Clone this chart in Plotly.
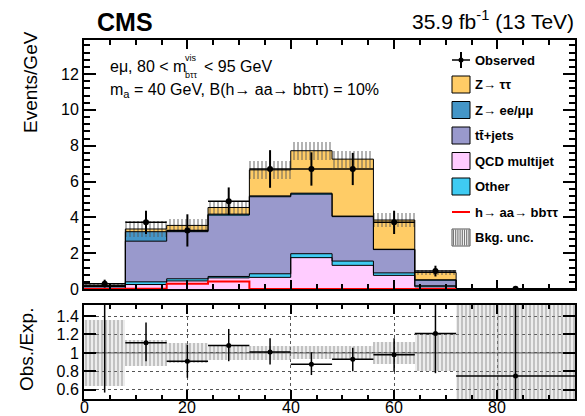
import numpy as np
import plotly.graph_objects as go

# ---------------- data ----------------
edges = [0, 8, 16, 24, 32, 40, 48, 56, 64, 72, 95]

qcd   = [0.02, 0.25, 0.45, 0.62, 0.65, 1.75, 1.32, 0.76, 0.12, 0.002]
other = [0.02, 0.15, 0.12, 0.08, 0.20, 0.22, 0.24, 0.14, 0.06, 0.001]
ttbar = [0.10, 2.27, 2.63, 3.43, 4.30, 3.33, 2.48, 1.30, 0.32, 0.005]
zll   = [0.03, 0.53, 0.05, 0.05, 0.05, 0.05, 0.03, 0.02, 0.01, 0.001]
ztt   = [0.03, 0.15, 0.30, 0.37, 1.45, 2.37, 3.18, 1.63, 0.41, 0.004]
bkg_unc = [0.07, 0.42, 0.36, 0.38, 0.50, 0.51, 0.48, 0.40, 0.15, 0.014]
signal = [0.0, 0.02, 0.30, 0.42, 0.0, 0.0, 0.0, 0.0, 0.0, 0.0]

observed = [0.30, 3.72, 3.27, 4.90, 6.70, 6.70, 6.70, 3.72, 1.00, 0.01]
obs_err  = [0.22, 0.65, 0.90, 0.77, 1.05, 0.93, 0.90, 0.65, 0.30, 0.03]

ratio      = [1.60, 1.11, 0.91, 1.08, 1.01, 0.878, 0.93, 0.98, 1.21, 0.75]
ratio_up   = [1.00, 0.22, 0.18, 0.18, 0.15, 0.13, 0.125, 0.18, 0.50, 1.00]
ratio_down = [1.03, 0.20, 0.18, 0.17, 0.135, 0.118, 0.13, 0.185, 0.43, 0.75]
ratio_unc  = [0.36, 0.14, 0.107, 0.082, 0.08, 0.07, 0.075, 0.123, 0.20, 1.00]

y_ticks = [0, 2, 4, 6, 8, 10, 12]
x_ticks = [0, 20, 40, 60, 80]
r_ticks = [0.6, 0.8, 1.0, 1.2, 1.4]
r_ticktext = ["0.6", "0.8", "1", "1.2", "1.4"]

# ---------------- styles ----------------
C_ZTT, C_ZLL, C_TT, C_QCD, C_OTH = "#FFCC66", "#4496C8", "#9999CC", "#FFCCFF", "#3FCBF2"
C_SIG = "#FF0000"
FONT = "Liberation Sans, Arial, Helvetica, sans-serif"

W, H = 585, 416
L, R, T, B = 84, 10, 40, 17
pw, ph = W - L - R, H - T - B


def fx(px):
    return (px - L) / pw


def fy(py):
    return (H - B - py) / ph


e = np.array(edges, dtype=float)
centers = 0.5 * (e[:-1] + e[1:])
widths = e[1:] - e[:-1]

components = [
    ("QCD multijet", qcd, C_QCD),
    ("Other", other, C_OTH),
    ("tt+jets", ttbar, C_TT),
    ("Z->ll", zll, C_ZLL),
    ("Z->tautau", ztt, C_ZTT),
]

fig = go.Figure()

# stacked fills
base = np.zeros(len(centers))
levels = []
for name, vals, col in components:
    v = np.array(vals, dtype=float)
    fig.add_trace(go.Bar(x=centers, y=v, base=base, width=widths, marker=dict(color=col, line=dict(width=0)),
                         xaxis="x", yaxis="y", showlegend=False, name=name))
    base = base + v
    levels.append(base.copy())
total = base

# background uncertainty hatch
unc = np.array(bkg_unc)
fig.add_trace(go.Bar(x=centers, y=2 * unc, base=total - unc, width=widths,
                     marker=dict(color="rgba(0,0,0,0)", line=dict(width=0),
                                 pattern=dict(shape="|", fgcolor="rgba(85,85,85,0.9)", size=4, solidity=0.5,
                                              fillmode="overlay")),
                     xaxis="x", yaxis="y", showlegend=False))

# step outlines of each stacked level
for lev in levels:
    fig.add_trace(go.Scatter(x=e, y=np.append(lev, lev[-1]), mode="lines", line=dict(color="black", width=1, shape="hv"),
                             xaxis="x", yaxis="y", showlegend=False, hoverinfo="skip"))

# signal
sig = np.array(signal)
fig.add_trace(go.Scatter(x=e, y=np.append(sig, sig[-1]), mode="lines", line=dict(color=C_SIG, width=2, shape="hv"),
                         xaxis="x", yaxis="y", showlegend=False))

# observed
fig.add_trace(go.Scatter(x=centers, y=observed, mode="markers",
                         marker=dict(color="black", size=6),
                         error_y=dict(type="data", array=obs_err, color="black", thickness=2, width=0),
                         error_x=dict(type="data", array=widths / 2, color="black", thickness=1.5, width=0),
                         xaxis="x", yaxis="y", showlegend=False))

# ratio panel
ru = np.array(ratio_unc)
fig.add_trace(go.Bar(x=centers, y=2 * ru, base=1 - ru, width=widths,
                     marker=dict(color="rgba(0,0,0,0)", line=dict(width=0),
                                 pattern=dict(shape="|", fgcolor="#858585", size=4, solidity=0.65,
                                              fillmode="overlay")),
                     xaxis="x2", yaxis="y2", showlegend=False))
fig.add_trace(go.Scatter(x=[0, 95], y=[1, 1], mode="lines", line=dict(color="#555555", width=1),
                         xaxis="x2", yaxis="y2", showlegend=False))
fig.add_trace(go.Scatter(x=centers, y=ratio, mode="markers",
                         marker=dict(color="black", size=5),
                         error_y=dict(type="data", symmetric=False, array=ratio_up, arrayminus=ratio_down,
                                      color="black", thickness=1.5, width=0),
                         error_x=dict(type="data", array=widths / 2, color="black", thickness=1.5, width=0),
                         xaxis="x2", yaxis="y2", showlegend=False, cliponaxis=True))

axis_common = dict(showline=True, linecolor="black", linewidth=2, mirror="ticks", ticks="inside",
                   tickcolor="black", tickwidth=2, zeroline=False, showgrid=False, automargin=False,
                   tickfont=dict(family=FONT, size=16, color="black"))

fig.update_layout(
    width=W, height=H, margin=dict(l=L, r=R, t=T, b=B),
    paper_bgcolor="white", plot_bgcolor="white", barmode="overlay", bargap=0,
    font=dict(family=FONT, color="black"),
    xaxis=dict(**axis_common, domain=[0, 1], range=[0, 95], anchor="y", tickvals=x_ticks, showticklabels=False,
               ticklen=9, minor=dict(dtick=5, tick0=0, ticklen=5, tickwidth=1.5, ticks="inside", tickcolor="black")),
    yaxis=dict(**axis_common, domain=[fy(289), 1], range=[0, 13.9], anchor="x", tickvals=y_ticks, ticklen=12,
               minor=dict(dtick=0.4, tick0=0, ticklen=6, tickwidth=1.5, ticks="inside", tickcolor="black")),
    xaxis2=dict(**{**axis_common, "showgrid": True}, gridcolor="#555555", griddash="dot", gridwidth=1,
                domain=[0, 1], range=[0, 95], anchor="y2", matches="x", tickvals=x_ticks, ticklen=9,
                showticklabels=False,
                minor=dict(dtick=5, tick0=0, ticklen=4, tickwidth=1.5, ticks="inside", tickcolor="black")),
    yaxis2=dict(**{**axis_common, "showgrid": True}, gridcolor="#555555", griddash="dot", gridwidth=1,
                domain=[0, fy(305)], range=[0.5, 1.52], anchor="x2", tickvals=r_ticks, ticktext=r_ticktext,
                ticklen=12),
)

ann = []


def text(px, py, s, size, xanchor="left", yanchor="middle", angle=0, color="black"):
    ann.append(dict(x=fx(px), y=fy(py), xref="paper", yref="paper", text=s, showarrow=False,
                    xanchor=xanchor, yanchor=yanchor, textangle=angle, borderpad=0,
                    font=dict(family=FONT, size=size, color=color)))


# x tick labels of the ratio panel, placed tight under the frame
for t in x_ticks:
    ann.append(dict(x=t, xref="x2", y=fy(407.5), yref="paper", text=str(t), showarrow=False,
                    xanchor="center", yanchor="middle", font=dict(family=FONT, size=16, color="black")))

text(96, 22, "<b>CMS</b>", 25)
text(575, 20, "35.9 fb<sup>-1</sup> (13 TeV)", 21, xanchor="right")
text(30, 82, "Events/GeV", 19, xanchor="center", angle=-90)
text(26, 350, "Obs./Exp.", 19, xanchor="center", angle=-90)
text(109, 66.5, "eμ, 80 < m", 16)
text(184, 58, "vis", 9)
text(184, 75.5, "bττ", 9)
text(203, 66.5, "< 95 GeV", 16)
text(109, 90.5, "m<sub>a</sub> = 40 GeV, B(h→ aa→ bbττ) = 10%", 16)

# legend
shapes = []
lx0, lx1 = 452, 470
rows = [60, 84.5, 110, 135.5, 161, 186.5, 212, 237.5]
labels = ["Observed", "Z→ ττ", "Z→ ee/μμ", "tt̄+jets", "QCD multijet", "Other", "h→ aa→ bbττ", "Bkg. unc."]
box_cols = [None, C_ZTT, C_ZLL, C_TT, C_QCD, C_OTH, None, None]


def pshape(**kw):
    kw.setdefault("xref", "paper")
    kw.setdefault("yref", "paper")
    shapes.append(kw)


for yrow, lab, col in zip(rows, labels, box_cols):
    text(474, yrow, "<b>" + lab + "</b>", 13)
    if col is not None:
        pshape(type="rect", x0=fx(lx0), x1=fx(lx1), y0=fy(yrow - 8.5), y1=fy(yrow + 8.5),
               fillcolor=col, line=dict(color="black", width=1))

# observed marker in legend
pshape(type="line", x0=fx(lx0), x1=fx(lx1), y0=fy(60), y1=fy(60), line=dict(color="black", width=1.5))
pshape(type="line", x0=fx(461), x1=fx(461), y0=fy(52), y1=fy(68), line=dict(color="black", width=2))
pshape(type="circle", x0=fx(458.5), x1=fx(463.5), y0=fy(57.5), y1=fy(62.5), fillcolor="black",
       line=dict(color="black", width=0))
# signal line
pshape(type="line", x0=fx(lx0), x1=fx(lx1), y0=fy(212), y1=fy(212), line=dict(color=C_SIG, width=2))
# uncertainty box
yb = 237.5
pshape(type="rect", x0=fx(lx0), x1=fx(lx1), y0=fy(yb - 8.5), y1=fy(yb + 8.5), fillcolor="white",
       line=dict(color="#555555", width=1))
for xx in np.arange(lx0 + 1.5, lx1 - 0.5, 2.2):
    pshape(type="line", x0=fx(xx), x1=fx(xx), y0=fy(yb - 8), y1=fy(yb + 8), line=dict(color="#777777", width=1.2))

fig.update_layout(annotations=ann, shapes=shapes)
fig.write_html("out.html")
